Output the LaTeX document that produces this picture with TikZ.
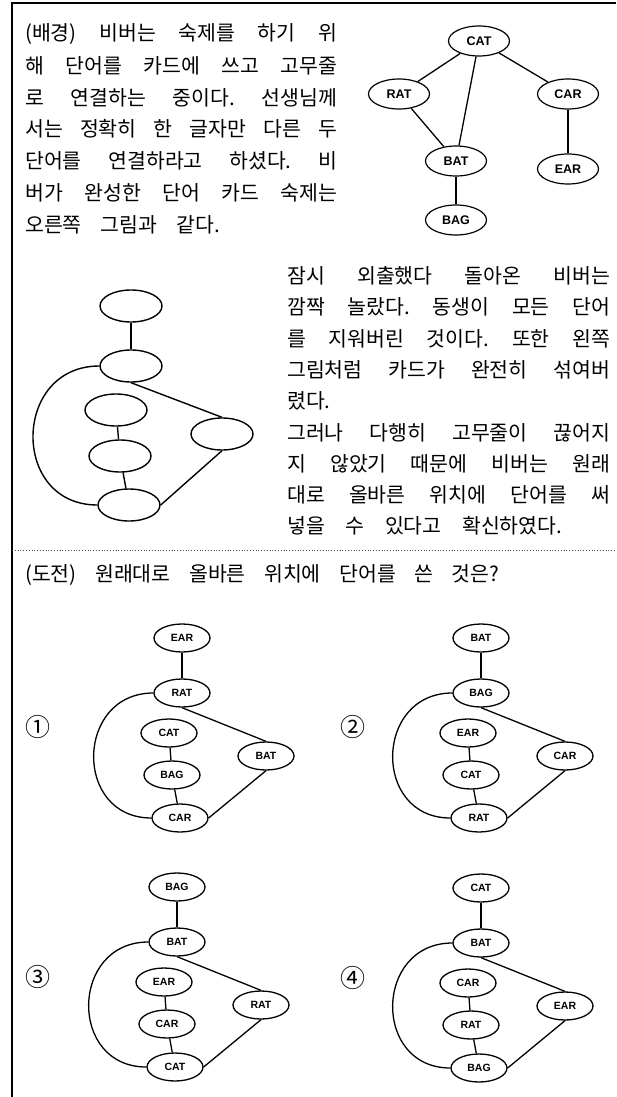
\documentclass[tikz,border=0pt]{standalone}
\usepackage{fontspec}
\setmainfont{Noto Sans CJK KR}
\newfontfamily\cardfont{Liberation Sans}
\usetikzlibrary{shapes.geometric}
\frenchspacing

\tikzset{
  card/.style={draw, ellipse, line width=1.3pt, minimum width=56pt, minimum height=28pt,
    inner sep=0pt, font=\cardfont\bfseries\fontsize{10.5}{11}\selectfont},
  bigcard/.style={card, line width=1.2pt, minimum width=61pt, minimum height=30pt,
    font=\cardfont\bfseries\fontsize{12.5}{13}\selectfont},
  blank/.style={draw, ellipse, line width=1.4pt, minimum width=62pt, minimum height=32pt},
  rope/.style={line width=1.3pt},
  txt/.style={anchor=west, inner sep=0pt, font=\fontsize{20.5}{30}\selectfont}
}

% one answer choice: prefix, position, then top, second, inner upper, right, inner lower, bottom
\newcommand{\cardset}[8]{%
  \begin{scope}[shift={#2}]
    \node[card] (#1a) at (0,0) {#3};
    \node[card] (#1b) at (0,55) {#4};
    \node[card] (#1c) at (-13,95) {#5};
    \node[card] (#1d) at (84,118) {#6};
    \node[card] (#1e) at (-10,137) {#7};
    \node[card] (#1f) at (-2,180) {#8};
    \draw[rope] (#1a) -- (#1b);
    \draw[rope] (#1b.south) -- (#1d.north);
    \draw[rope] (#1c) -- (#1e);
    \draw[rope] (#1e) -- (#1f);
    \draw[rope] (#1d.south) -- (#1f.east);
    \draw[rope] (#1b.west) to[out=180, in=180, looseness=1.6] (#1f.west);
  \end{scope}}

\begin{document}
\begin{tikzpicture}[x=1pt, y=-1pt]
  \useasboundingbox (0,0) rectangle (616,1097);
  \draw[line width=1.3pt] (12,1097) -- (12,3) -- (616,3);

  % background story
  \node[txt] (p1) at (25,34) {\makebox[312pt][s]{(배경) 비버는 숙제를 하기 위}};
  \node[txt] (p2) at (25,66) {\makebox[312pt][s]{해 단어를 카드에 쓰고 고무줄}};
  \node[txt] (p3) at (25,98) {\makebox[312pt][s]{로 연결하는 중이다. 선생님께}};
  \node[txt] (p4) at (25,129) {\makebox[312pt][s]{서는 정확히 한 글자만 다른 두}};
  \node[txt] (p5) at (25,161) {\makebox[312pt][s]{단어를 연결하라고 하셨다. 비}};
  \node[txt] (p6) at (25,193) {\makebox[312pt][s]{버가 완성한 단어 카드 숙제는}};
  \node[txt] (p7) at (25,225) {\makebox[195pt][s]{오른쪽 그림과 같다.}};

  % the finished homework
  \node[bigcard] (cat) at (479,41) {CAT};
  \node[bigcard] (rat) at (399,94) {RAT};
  \node[bigcard] (car) at (568,94) {CAR};
  \node[bigcard] (bat) at (456,161) {BAT};
  \node[bigcard] (ear) at (568,169) {EAR};
  \node[bigcard] (bag) at (456,220) {BAG};
  \draw[rope] (cat) -- (rat);
  \draw[rope] (cat) -- (bat);
  \draw[rope] (cat) -- (car);
  \draw[rope] (rat) -- (bat);
  \draw[rope] (car) -- (ear);
  \draw[rope] (bat) -- (bag);

  % shuffled cards
  \node[blank] (e1) at (131,306) {};
  \node[blank] (e2) at (131,366) {};
  \node[blank] (e3) at (116,410) {};
  \node[blank] (e4) at (222,434) {};
  \node[blank] (e5) at (120,456) {};
  \node[blank] (e6) at (129,505) {};
  \draw[line width=1.4pt] (e1) -- (e2);
  \draw[line width=1.4pt] (e2.south) -- (e4.north);
  \draw[line width=1.4pt] (e3) -- (e5);
  \draw[line width=1.4pt] (e5) -- (e6);
  \draw[line width=1.4pt] (e4.south) -- (e6.east);
  \draw[line width=1.4pt] (e2.west) to[out=180, in=180, looseness=1.6] (e6.west);

  \node[txt] (q1) at (287,276) {\makebox[323pt][s]{잠시 외출했다 돌아온 비버는}};
  \node[txt] (q2) at (287,307) {\makebox[323pt][s]{깜짝 놀랐다. 동생이 모든 단어}};
  \node[txt] (q3) at (287,339) {\makebox[323pt][s]{를 지워버린 것이다. 또한 왼쪽}};
  \node[txt] (q4) at (287,370) {\makebox[323pt][s]{그림처럼 카드가 완전히 섞여버}};
  \node[txt] (q5) at (287,401) {렸다.};
  \node[txt] (q6) at (287,433) {\makebox[323pt][s]{그러나 다행히 고무줄이 끊어지}};
  \node[txt] (q7) at (287,464) {\makebox[323pt][s]{지 않았기 때문에 비버는 원래}};
  \node[txt] (q8) at (287,495) {\makebox[323pt][s]{대로 올바른 위치에 단어를 써}};
  \node[txt] (q9) at (287,526) {\makebox[275pt][s]{넣을 수 있다고 확신하였다.}};

  \draw[dotted, line width=0.8pt, black!70] (12,550) -- (616,550);

  % challenge
  \node[txt] (ask) at (25,575) {\makebox[474pt][s]{(도전) 원래대로 올바른 위치에 단어를 쓴 것은?}};

  \node[txt, font=\fontsize{25}{30}\selectfont] (n1) at (25,727) {①};
  \node[txt, font=\fontsize{25}{30}\selectfont] (n2) at (340,727) {②};
  \node[txt, font=\fontsize{25}{30}\selectfont] (n3) at (25,977) {③};
  \node[txt, font=\fontsize{25}{30}\selectfont] (n4) at (340,978) {④};

  \cardset{o1}{(182,638)}{EAR}{RAT}{CAT}{BAT}{BAG}{CAR}
  \cardset{o2}{(481,638)}{BAT}{BAG}{EAR}{CAR}{CAT}{RAT}
  \cardset{o3}{(177,887)}{BAG}{BAT}{EAR}{RAT}{CAR}{CAT}
  \cardset{o4}{(481,888)}{CAT}{BAT}{CAR}{EAR}{RAT}{BAG}
\end{tikzpicture}
\end{document}
